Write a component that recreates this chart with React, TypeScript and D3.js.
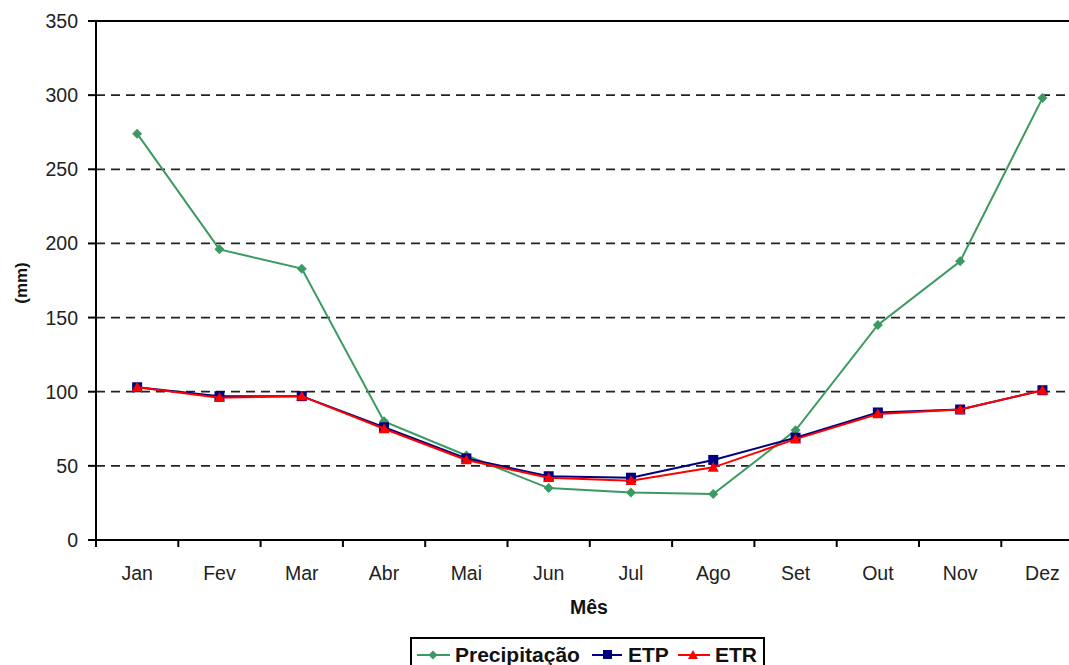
import React from "react";
import * as d3 from "d3";

const months = ["Jan", "Fev", "Mar", "Abr", "Mai", "Jun", "Jul", "Ago", "Set", "Out", "Nov", "Dez"];
const precipitacao = [274, 196, 183, 80, 57, 35, 32, 31, 74, 145, 188, 298];
const etp = [103, 97, 97, 76, 55, 43, 42, 54, 69, 86, 88, 101];
const etr = [103, 96, 97, 75, 54, 42, 40, 49, 68, 85, 88, 101];
const yTicks = [0, 50, 100, 150, 200, 250, 300, 350];

export default function App() {
  const W = 1069, H = 665;
  const left = 96, top = 21, bottom = 540;
  const step = 82.3;
  const x = d3.scaleBand<string>().domain(months).range([left, left + step * 12]);
  const y = d3.scaleLinear().domain([0, 350]).range([bottom, top]);
  const cx = (m: string) => (x(m) as number) + x.bandwidth() / 2;
  const line = d3.line<number>().x((_, i) => cx(months[i])).y((d) => y(d));
  const font = "'Liberation Sans', Arial, sans-serif";
  const green = "#3a9a62";
  const navy = "#000080";
  const red = "#ff0000";
  const diamond = (px: number, py: number, r = 5) =>
    `M${px},${py - r}L${px + r},${py}L${px},${py + r}L${px - r},${py}Z`;
  const tri = (px: number, py: number, r = 5.5) =>
    `M${px},${py - r}L${px + r},${py + r * 0.8}L${px - r},${py + r * 0.8}Z`;
  return (
    <svg width={W} height={H} style={{ position: "absolute", left: 0, top: 0, background: "#fff" }}>
      {yTicks.filter((t) => t > 0 && t < 350).map((t) => (
        <line key={t} x1={left} x2={W} y1={y(t)} y2={y(t)} stroke="#222" strokeWidth={1.8} strokeDasharray="9,6" />
      ))}
      <line x1={left} x2={W} y1={top} y2={top} stroke="#000" strokeWidth={2} />
      <line x1={left} x2={left} y1={top} y2={bottom} stroke="#000" strokeWidth={2} />
      <line x1={left} x2={W} y1={bottom} y2={bottom} stroke="#000" strokeWidth={2} />
      {yTicks.map((t) => (
        <g key={t}>
          <line x1={left - 8} x2={left} y1={y(t)} y2={y(t)} stroke="#000" strokeWidth={2} />
          <text x={78} y={y(t)} dy="0.36em" textAnchor="end" fontFamily={font} fontSize={19.5} fill="#222">{t}</text>
        </g>
      ))}
      {months.map((m, i) => (
        <g key={m}>
          <line x1={left + step * i} x2={left + step * i} y1={bottom} y2={bottom + 7} stroke="#000" strokeWidth={2} />
          <text x={cx(m)} y={580} textAnchor="middle" fontFamily={font} fontSize={19.5} fill="#222">{m}</text>
        </g>
      ))}
      <text x={589} y={614} textAnchor="middle" fontFamily={font} fontSize={19.5} fontWeight="bold" fill="#111">Mês</text>
      <text transform={`translate(27,283) rotate(-90)`} textAnchor="middle" fontFamily={font} fontSize={17} fontWeight="bold" fill="#111">(mm)</text>
      <path d={line(precipitacao) as string} fill="none" stroke={green} strokeWidth={2} />
      {precipitacao.map((v, i) => <path key={"p" + i} d={diamond(cx(months[i]), y(v))} fill={green} />)}
      <path d={line(etp) as string} fill="none" stroke={navy} strokeWidth={2} />
      {etp.map((v, i) => <rect key={"e" + i} x={cx(months[i]) - 5} y={y(v) - 5} width={10} height={10} fill={navy} />)}
      <path d={line(etr) as string} fill="none" stroke={red} strokeWidth={2} />
      {etr.map((v, i) => <path key={"r" + i} d={tri(cx(months[i]), y(v))} fill={red} />)}
      <rect x={411} y={638} width={353} height={40} fill="#fff" stroke="#000" strokeWidth={2} />
      <line x1={417} x2={450} y1={655} y2={655} stroke={green} strokeWidth={2} />
      <path d={diamond(433, 655, 4.5)} fill={green} />
      <text x={455} y={662} fontFamily={font} fontSize={21} fontWeight="bold" fill="#111">Precipitação</text>
      <line x1={592} x2={622} y1={655} y2={655} stroke={navy} strokeWidth={2} />
      <rect x={603} y={650} width={9} height={9} fill={navy} />
      <text x={628} y={662} fontFamily={font} fontSize={21} fontWeight="bold" fill="#111">ETP</text>
      <line x1={678} x2={710} y1={655} y2={655} stroke={red} strokeWidth={2} />
      <path d={tri(693, 655, 5)} fill={red} />
      <text x={715} y={662} fontFamily={font} fontSize={21} fontWeight="bold" fill="#111">ETR</text>
    </svg>
  );
}
